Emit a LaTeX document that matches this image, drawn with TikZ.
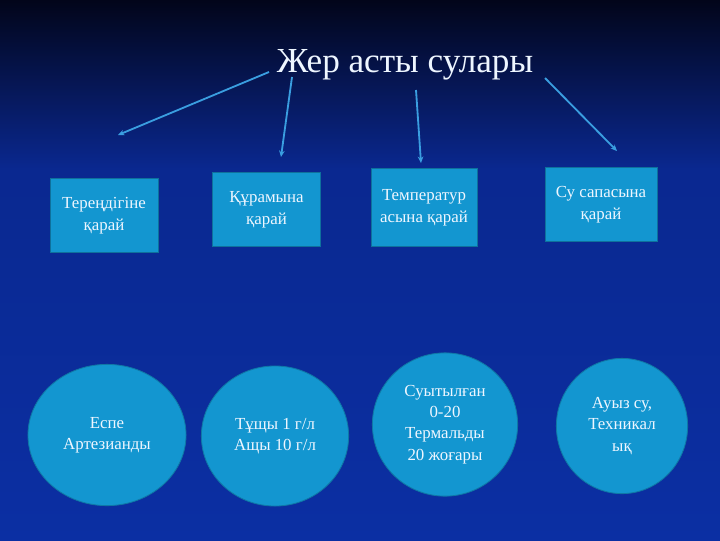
\documentclass[tikz,border=0pt]{standalone}
\usepackage{fontspec}
\setmainfont{Liberation Serif}
\usetikzlibrary{arrows.meta, shapes.geometric}
\definecolor{cnight}{HTML}{02051A}
\definecolor{cdeep}{HTML}{0A2890}
\definecolor{cblue}{HTML}{0B2FA3}
\definecolor{ccyan}{HTML}{1396D0}
\definecolor{cline}{HTML}{3A9EE0}
\definecolor{ctext}{HTML}{EEF6FF}
\tikzset{
  every picture/.style={line width=1.2pt},
  kind/.style={draw=ccyan!75!black, fill=ccyan, line width=0.6pt, align=center, text=ctext,
    font=\fontsize{12}{15.6}\selectfont, minimum width=#1, minimum height=1.83cm, inner sep=2pt},
  kind/.default=2.7cm,
  sort/.style={ellipse, draw=ccyan!80!black, fill=ccyan, line width=0.6pt, align=center, text=ctext,
    font=\fontsize{12}{15.2}\selectfont, inner sep=0pt},
  arrow/.style={-{Stealth[length=1.6mm, width=1.4mm]}, draw=cline, line width=1.3pt},
  title/.style={font=\fontsize{25}{29}\selectfont, text=ctext},
}

\begin{document}
\begin{tikzpicture}[x=0.025cm, y=-0.025cm]
  \useasboundingbox (0,0) rectangle (720,540);
  % background
  \shade[top color=cnight, bottom color=cdeep] (0,0) rectangle (720,170);
  \shade[top color=cdeep, bottom color=cblue] (0,170) rectangle (720,540);
  % title
  \node[title, anchor=base] (title) at (405,72) {Жер асты сулары};
  % kinds
  \node[kind] (k1) at (104,215.5) {Тереңдігіне\\қарай};
  \node[kind=2.68cm] (k2) at (266.5,209.5) {Құрамына\\қарай};
  \node[kind=2.65cm, minimum height=1.93cm] (k3) at (424,207.5) {Температур\\асына қарай};
  \node[kind=2.8cm] (k4) at (601,204.5) {Су сапасына\\қарай};
  % arrow ends
  \coordinate (s1) at (269,72);  \coordinate (e1) at (118,135);
  \coordinate (s2) at (292,77);  \coordinate (e2) at (281,157);
  \coordinate (s3) at (416,90);  \coordinate (e3) at (421,163);
  \coordinate (s4) at (545,78);  \coordinate (e4) at (617,151);
  \foreach \i in {1,...,4}
    \draw[arrow] (s\i) -- (e\i);
  % sorts
  \node[sort, minimum width=3.95cm, minimum height=3.53cm] (o1) at (107,435) {Еспе\\Артезианды};
  \node[sort, minimum width=3.68cm, minimum height=3.5cm] (o2) at (275,436) {Тұщы 1 г/л\\Ащы 10 г/л};
  \node[sort, minimum width=3.63cm, minimum height=3.58cm] (o3) at (445,424.5) {Суытылған\\0-20\\Термальды\\20 жоғары};
  \node[sort, minimum width=3.28cm, minimum height=3.38cm] (o4) at (622,426) {Ауыз су,\\Техникал\\ық};
\end{tikzpicture}
\end{document}
